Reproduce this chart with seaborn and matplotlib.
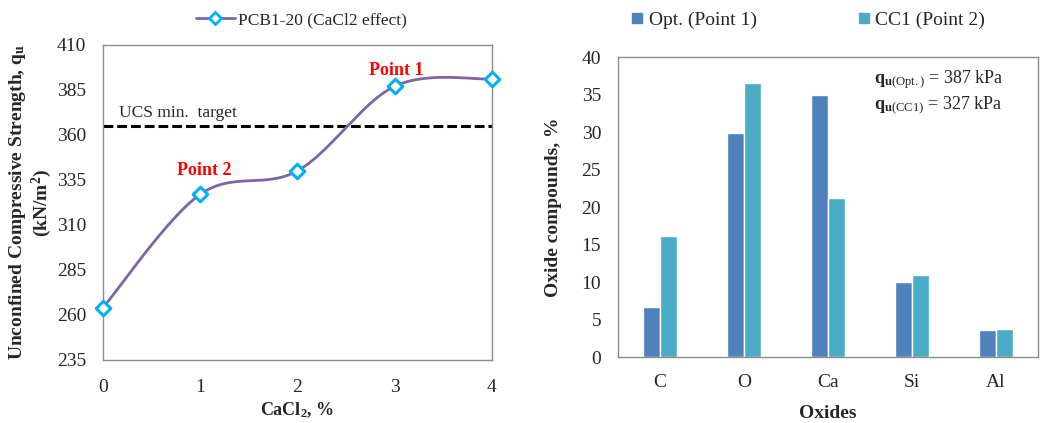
import numpy as np
import pandas as pd
import matplotlib
matplotlib.use("Agg")
import matplotlib.pyplot as plt
from matplotlib.lines import Line2D
import seaborn as sns

# UCS versus CaCl2 content
cacl2_pct = [0, 1, 2, 3, 4]
ucs_kpa = [264, 327, 340, 387, 391]
ucs_target = 365
y_ticks_ucs = [235, 260, 285, 310, 335, 360, 385, 410]

# Oxide composition of the two mixes
oxides = ["C", "O", "Ca", "Si", "Al"]
opt_point1 = [6.7, 29.9, 35.0, 10.0, 3.6]
cc1_point2 = [16.1, 36.5, 21.2, 10.9, 3.8]
series_names = ["Opt. (Point 1)", "CC1 (Point 2)"]
qu_opt = 387
qu_cc1 = 327

LINE_COL = "#8064A2"
MARK_COL = "#00B0F0"
BAR_COLS = ["#4F81BD", "#4BACC6"]
SPINE_COL = "#8C8C8C"

sns.set_style("white")
plt.rcParams["font.family"] = ["Liberation Serif", "DejaVu Serif"]
plt.rcParams["mathtext.fontset"] = "custom"
plt.rcParams["mathtext.rm"] = "Liberation Serif"
plt.rcParams["mathtext.bf"] = "Liberation Serif:bold"
plt.rcParams["mathtext.it"] = "Liberation Serif:italic"


def smooth_curve(x, y, n=40):
    """Bezier smoothing through the points (Catmull-Rom style control points)."""
    x = np.asarray(x, float)
    y = np.asarray(y, float)
    px = np.concatenate([[x[0]], x, [x[-1]]])
    py = np.concatenate([[y[0]], y, [y[-1]]])
    t = np.linspace(0, 1, n)
    xs, ys = [], []
    for i in range(1, len(px) - 2):
        p0 = np.array([px[i - 1], py[i - 1]])
        p1 = np.array([px[i], py[i]])
        p2 = np.array([px[i + 1], py[i + 1]])
        p3 = np.array([px[i + 2], py[i + 2]])
        c1 = p1 + (p2 - p0) / 6.0
        c2 = p2 - (p3 - p1) / 6.0
        b = (np.outer((1 - t) ** 3, p1) + np.outer(3 * (1 - t) ** 2 * t, c1)
             + np.outer(3 * (1 - t) * t ** 2, c2) + np.outer(t ** 3, p2))
        xs.extend(b[:, 0])
        ys.extend(b[:, 1])
    return np.array(xs), np.array(ys)


fig = plt.figure(figsize=(10.4, 4.23), dpi=100)
ax1 = fig.add_axes([0.099, 0.149, 0.374, 0.745])
ax2 = fig.add_axes([0.594, 0.156, 0.404, 0.709])

# ---- Left panel: UCS curve ----
sx, sy = smooth_curve(cacl2_pct, ucs_kpa)
curve = pd.DataFrame({"x": sx, "y": sy})
sns.lineplot(data=curve, x="x", y="y", sort=False, color=LINE_COL, lw=2.0,
             ax=ax1, clip_on=False, zorder=2)
pts = pd.DataFrame({"x": cacl2_pct, "y": ucs_kpa})
sns.scatterplot(data=pts, x="x", y="y", marker="D", s=55, facecolor="white",
                edgecolor=MARK_COL, linewidth=2.2, ax=ax1, clip_on=False, zorder=3)
ax1.axhline(ucs_target, color="black", lw=2.2, dashes=(3.2, 1.3), zorder=1)

ax1.set_xlim(0, 4)
ax1.set_ylim(235, 410)
ax1.set_xticks(cacl2_pct)
ax1.set_yticks(y_ticks_ucs)
ax1.tick_params(axis="y", direction="in", length=5, width=1, color=SPINE_COL,
                labelsize=14, pad=12)
ax1.tick_params(axis="x", direction="in", length=5, width=1, color=SPINE_COL,
                labelsize=14, pad=14)
ax1.set_xlabel("CaCl$_\\mathbf{2}$, %", fontsize=13, fontweight="bold", labelpad=3)
ax1.set_ylabel("Unconfined Compressive Strength, $\\mathbf{q_u}$\n(kN/m$^\\mathbf{2}$)",
               fontsize=14, fontweight="bold", linespacing=1.1, labelpad=2)
for sp in ax1.spines.values():
    sp.set_color(SPINE_COL)
    sp.set_linewidth(1)

ax1.text(0.16, 372, "UCS min.  target", fontsize=12.5, ha="left", va="center")
ax1.text(3.02, 396, "Point 1", fontsize=13, fontweight="bold", color="red",
         ha="center", va="center")
ax1.text(1.04, 340, "Point 2", fontsize=13, fontweight="bold", color="red",
         ha="center", va="center")

leg1_handle = Line2D([], [], color=LINE_COL, lw=2.0, marker="D", markersize=6.5,
                     markerfacecolor="white", markeredgecolor=MARK_COL,
                     markeredgewidth=2.0)
fig.legend([leg1_handle], ["PCB1-20 (CaCl2 effect)"], loc="center",
           bbox_to_anchor=(0.290, 0.953), frameon=False, fontsize=12.5,
           handlelength=2.2, handletextpad=0.2)

# ---- Right panel: oxide bars ----
bars = pd.DataFrame({
    "oxide": oxides * 2,
    "value": opt_point1 + cc1_point2,
    "sample": [series_names[0]] * len(oxides) + [series_names[1]] * len(oxides),
})
sns.barplot(data=bars, x="oxide", y="value", hue="sample", order=oxides,
            hue_order=series_names, palette=BAR_COLS, width=0.4, saturation=1,
            ax=ax2, legend=False)
ax2.set_xlim(-0.5, 4.5)
ax2.set_ylim(0, 40)
ax2.set_yticks(np.arange(0, 41, 5))
ax2.tick_params(axis="y", direction="in", length=5, width=1, color=SPINE_COL,
                labelsize=14, pad=12)
ax2.tick_params(axis="x", length=0, labelsize=14, pad=12)
ax2.set_xlabel("Oxides", fontsize=14, fontweight="bold", labelpad=10)
ax2.set_ylabel("Oxide compounds, %", fontsize=14, fontweight="bold", labelpad=14)
for sp in ax2.spines.values():
    sp.set_color(SPINE_COL)
    sp.set_linewidth(1)

ax2.text(0.917, 0.923, "$\\mathbf{q}_{\\mathbf{u}\\mathrm{(Opt.)}}$ = %d kPa" % qu_opt,
         transform=ax2.transAxes, fontsize=13, ha="right", va="center")
ax2.text(0.917, 0.840, "$\\mathbf{q}_{\\mathbf{u}\\mathrm{(CC1)}}$ = %d kPa" % qu_cc1,
         transform=ax2.transAxes, fontsize=13, ha="right", va="center")

bar_handles = [Line2D([], [], ls="none", marker="s", markersize=7,
                      markerfacecolor=c, markeredgecolor=c) for c in BAR_COLS]
fig.legend(bar_handles, series_names, loc="center", ncol=2,
           bbox_to_anchor=(0.777, 0.953), frameon=False, fontsize=14,
           handlelength=0.6, handletextpad=0.3, columnspacing=5.2)

fig.savefig("out.png", dpi=100)
